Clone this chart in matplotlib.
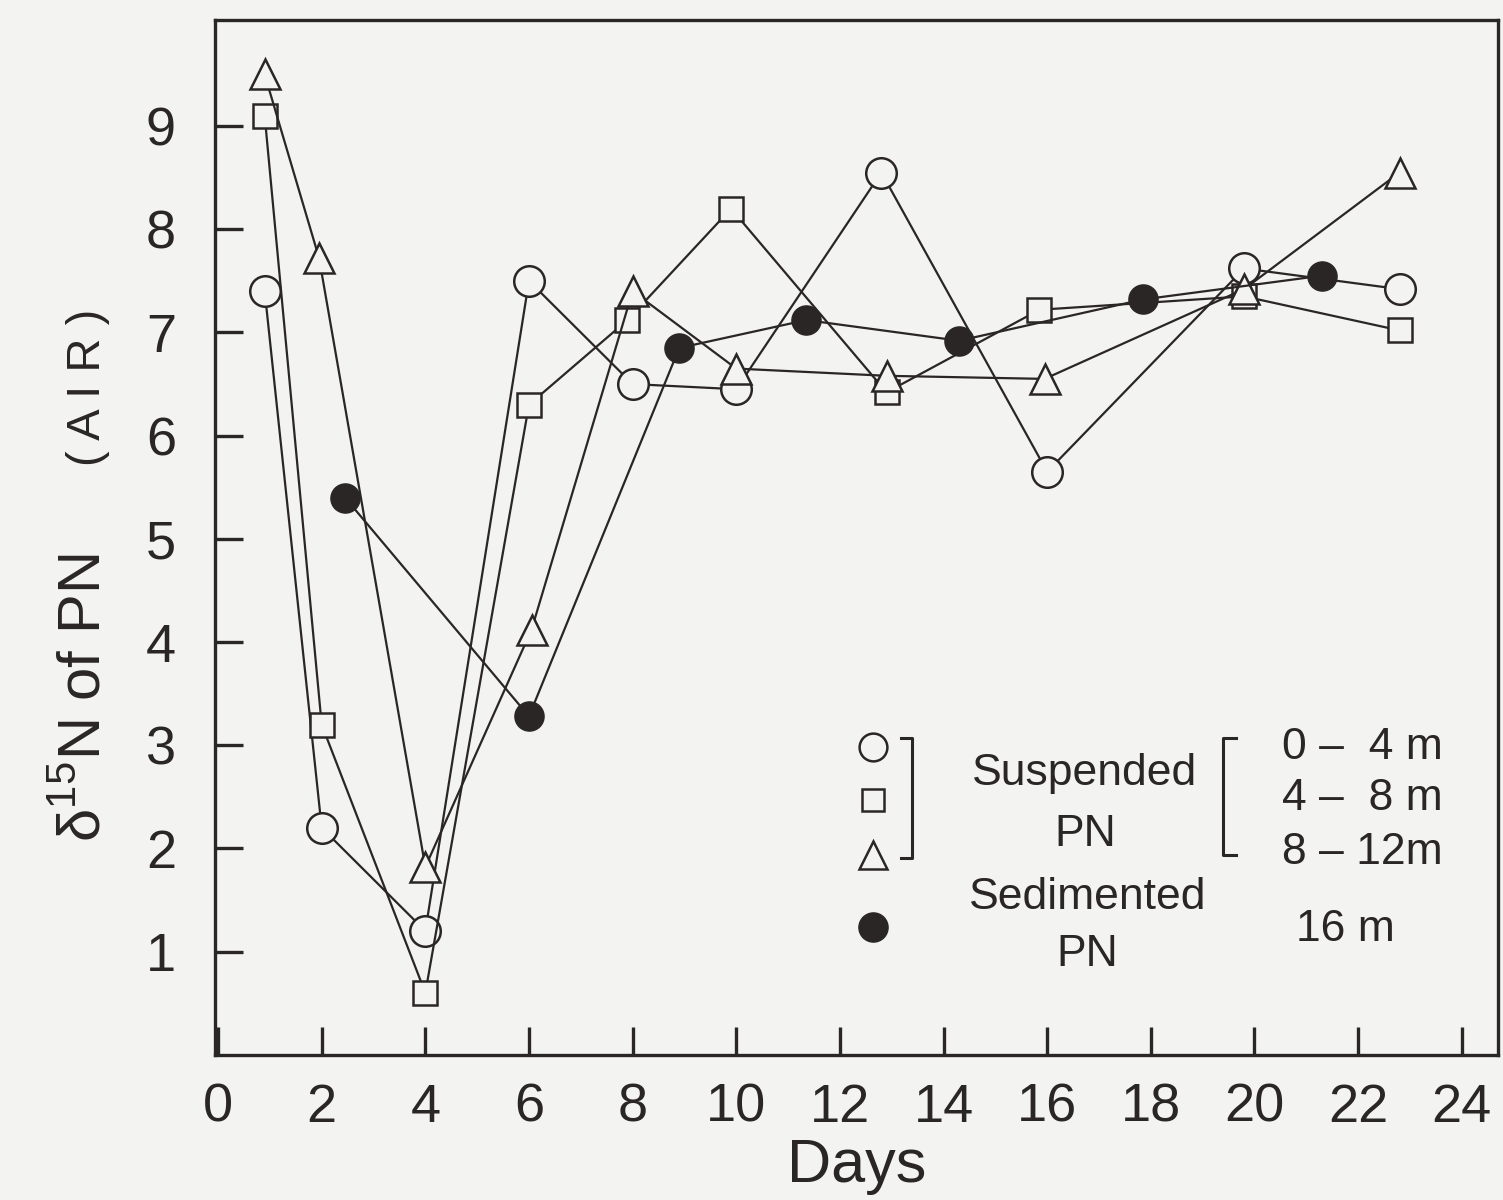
import matplotlib.pyplot as plt

# ---------------- DATA ---------------- #

days_0_4 = [0.9, 2.0, 4.0, 6.0, 8.0, 10.0, 12.8, 16.0, 19.8, 22.8]
d15n_0_4 = [7.4, 2.2, 1.2, 7.5, 6.5, 6.45, 8.55, 5.65, 7.62, 7.42]

days_4_8 = [0.9, 2.0, 4.0, 6.0, 7.9, 9.9, 12.9, 15.85, 19.8, 22.8]
d15n_4_8 = [9.1, 3.2, 0.6, 6.3, 7.12, 8.2, 6.42, 7.22, 7.35, 7.02]

days_8_12 = [0.9, 1.95, 4.0, 6.05, 8.0, 10.0, 12.9, 15.95, 19.8, 22.8]
d15n_8_12 = [9.5, 7.72, 1.82, 4.12, 7.4, 6.65, 6.58, 6.55, 7.42, 8.55]

days_sed = [2.45, 6.0, 8.9, 11.35, 14.3, 17.85, 21.3]
d15n_sed = [5.4, 3.28, 6.85, 7.12, 6.92, 7.32, 7.55]

x_ticks = list(range(0, 25, 2))
y_ticks = list(range(1, 10))

# ---------------- STYLE ---------------- #

ink = "#2b2626"
paper = "#f3f3f1"
plt.rcParams["font.family"] = ["Liberation Sans", "DejaVu Sans"]

fig = plt.figure(figsize=(15.03, 12.0), dpi=100)
fig.patch.set_facecolor(paper)
ax = fig.add_axes([0.143, 0.121, 0.8537, 0.8625])
ax.set_facecolor(paper)

line_kw = dict(color=ink, linewidth=1.6, markeredgecolor=ink,
               markeredgewidth=1.8, markerfacecolor=paper)

ax.plot(days_0_4, d15n_0_4, marker="o", markersize=22, **line_kw, zorder=3)
ax.plot(days_4_8, d15n_4_8, marker="s", markersize=17, **line_kw, zorder=3)
ax.plot(days_8_12, d15n_8_12, marker="^", markersize=22, **line_kw, zorder=3)
ax.plot(days_sed, d15n_sed, color=ink, linewidth=1.6, marker="o",
        markersize=21, markerfacecolor=ink, markeredgecolor=ink, zorder=4)

# ---------------- AXES ---------------- #

ax.set_xlim(-0.06, 24.7)
ax.set_ylim(0, 10.03)
ax.set_xticks(x_ticks)
ax.set_yticks(y_ticks)
ax.tick_params(direction="in", length=20, width=2.4, colors=ink,
               labelsize=39)
ax.tick_params(axis="x", pad=20)
ax.tick_params(axis="y", pad=28)
for spine in ax.spines.values():
    spine.set_color(ink)
    spine.set_linewidth(2.4)

ax.set_xlabel("Days", fontsize=44, color=ink, labelpad=4)

fig.text(0.0665, 0.298, "δ$^{\\mathregular{15}}$N of PN", rotation=90,
         rotation_mode="anchor", fontsize=43, color=ink,
         ha="left", va="baseline")
fig.text(0.0665, 0.612, "( A I R )", rotation=90,
         rotation_mode="anchor", fontsize=34, color=ink,
         ha="left", va="baseline")

# ---------------- LEGEND ---------------- #

tr = ax.transAxes
sym_x = 0.513
ax.plot([sym_x], [0.297], marker="o", markersize=20, transform=tr,
        color=ink, markerfacecolor=paper, markeredgewidth=1.8, clip_on=False)
ax.plot([sym_x], [0.246], marker="s", markersize=16, transform=tr,
        color=ink, markerfacecolor=paper, markeredgewidth=1.8, clip_on=False)
ax.plot([sym_x], [0.193], marker="^", markersize=20, transform=tr,
        color=ink, markerfacecolor=paper, markeredgewidth=1.8, clip_on=False)
ax.plot([sym_x], [0.123], marker="o", markersize=21, transform=tr,
        color=ink, clip_on=False)

# brackets
ax.plot([0.535, 0.543, 0.543, 0.535], [0.306, 0.306, 0.190, 0.190],
        color=ink, linewidth=2.2, transform=tr)
ax.plot([0.796, 0.786, 0.786, 0.796], [0.306, 0.306, 0.193, 0.193],
        color=ink, linewidth=2.2, transform=tr)

leg_kw = dict(transform=tr, fontsize=32, color=ink, va="center")
ax.text(0.678, 0.272, "Suspended", ha="center", **leg_kw)
ax.text(0.678, 0.213, "PN", ha="center", **leg_kw)
ax.text(0.680, 0.152, "Sedimented", ha="center", **leg_kw)
ax.text(0.680, 0.097, "PN", ha="center", **leg_kw)
ax.text(0.832, 0.297, "0 \u2013  4 m", ha="left", **leg_kw)
ax.text(0.832, 0.248, "4 \u2013  8 m", ha="left", **leg_kw)
ax.text(0.832, 0.195, "8 \u2013 12m", ha="left", **leg_kw)
ax.text(0.881, 0.121, "16 m", ha="center", **leg_kw)

fig.savefig("out.png", dpi=100, facecolor=paper)
